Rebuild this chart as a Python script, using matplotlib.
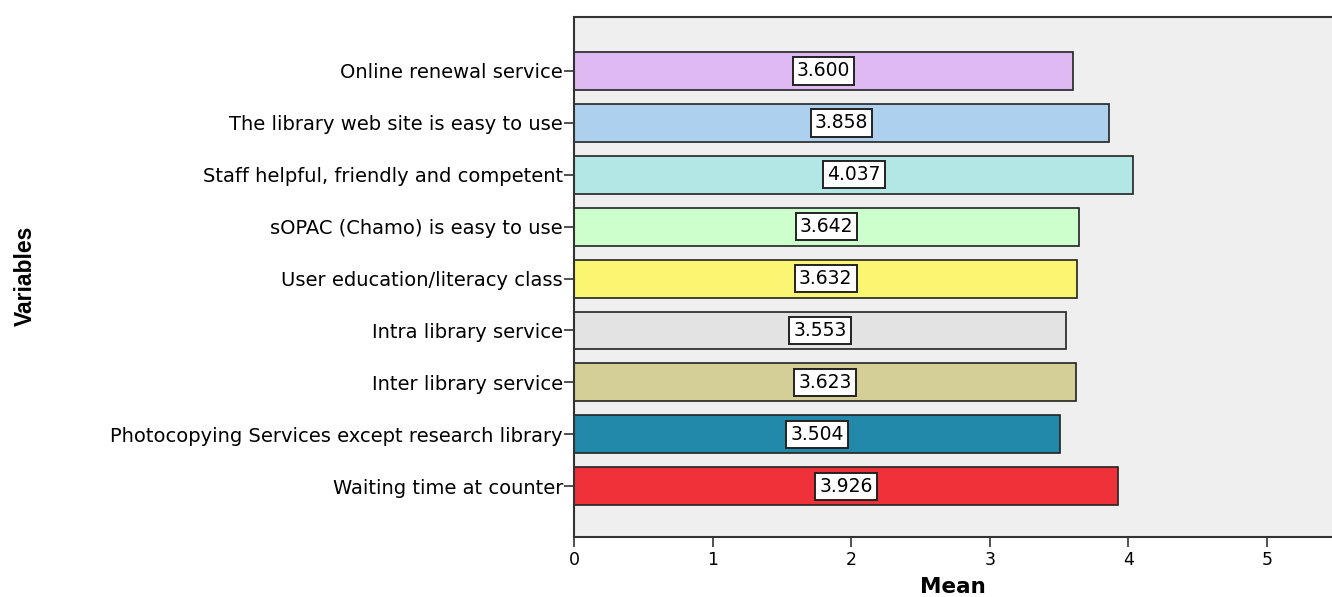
import matplotlib.pyplot as plt

plt.rcParams["font.family"] = ["DejaVu Sans"]

# categories listed bottom to top
variables = [
    "Waiting time at counter",
    "Photocopying Services except research library",
    "Inter library service",
    "Intra library service",
    "User education/literacy class",
    "sOPAC (Chamo) is easy to use",
    "Staff helpful, friendly and competent",
    "The library web site is easy to use",
    "Online renewal service",
]
means = [3.926, 3.504, 3.623, 3.553, 3.632, 3.642, 4.037, 3.858, 3.600]
colors = ["#EF3139", "#2389AB", "#D4CE97", "#E3E3E3", "#FAF672",
          "#CCFFCC", "#B3E7E6", "#ACD0EE", "#DFB9F1"]

fig = plt.figure(figsize=(13.32, 5.97), dpi=100)
ax = fig.add_axes([0.431, 0.1005, 0.569, 0.871])
ax.set_facecolor("#EFEFEF")

ypos = list(range(len(variables)))
ax.barh(ypos, means, height=0.73, color=colors, edgecolor="#222222", linewidth=1.2)

for y, m in zip(ypos, means):
    ax.text(m / 2, y, f"{m:.3f}", ha="center", va="center", fontsize=13.5,
            bbox=dict(boxstyle="square,pad=0.22", facecolor="white",
                      edgecolor="#222222", linewidth=1.4))

ax.set_xlim(0, 5.47)
ax.set_ylim(-0.98, 9.04)
ax.set_xticks([0, 1, 2, 3, 4, 5])
ax.set_yticks(ypos)
ax.set_yticklabels(variables, fontsize=14)
ax.tick_params(axis="x", labelsize=12.5, length=7, width=1.2, color="#333333", pad=3)
ax.tick_params(axis="y", length=7, width=1.2, color="#333333", pad=1)

for side in ["left", "top", "bottom"]:
    ax.spines[side].set_color("#333333")
    ax.spines[side].set_linewidth(1.5)
ax.spines["right"].set_visible(False)

ax.set_xlabel("Mean", fontsize=15.5, fontweight="bold", labelpad=6)
fig.text(0.019, 0.538, "Variables", rotation=90, ha="center", va="center",
         fontsize=16.5, fontweight="bold", family=["Liberation Sans"])

fig.savefig("out.png", dpi=100)
